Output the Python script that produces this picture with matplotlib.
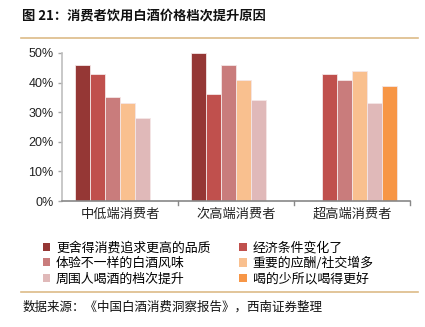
import matplotlib
matplotlib.use("Agg")
import matplotlib.pyplot as plt
import numpy as np
from matplotlib.patches import Patch
from matplotlib.lines import Line2D

plt.rcParams['font.family'] = ['Noto Sans CJK SC', 'DejaVu Sans']

categories = ['中低端消费者', '次高端消费者', '超高端消费者']
series_names = ['更舍得消费追求更高的品质', '经济条件变化了', '体验不一样的白酒风味',
                '重要的应酬/社交增多', '周围人喝酒的档次提升', '喝的少所以喝得更好']
values = [
    [46, 50, None],
    [43, 36, 43],
    [35, 46, 41],
    [33, 41, 44],
    [28, 34, 33],
    [None, None, 39],
]
colors = ['#953735', '#C0504D', '#C97C7C', '#F9C08F', '#E0B9B9', '#F79646']

fig = plt.figure(figsize=(4.25, 3.27), dpi=100)
ax = fig.add_axes([0.146, 0.385, 0.819, 0.453])

n = len(series_names)
w = 0.129
x = np.arange(len(categories))
for i in range(n):
    for j in range(len(categories)):
        v = values[i][j]
        if v is None:
            continue
        pos = x[j] - w * n / 2 + w * (i + 0.5)
        ax.bar(pos, v / 100, width=w, color=colors[i], edgecolor='#F4E6E6', linewidth=0.6)

ax.set_xlim(-0.5, 2.5)
ax.set_ylim(0, 0.5)
yt = np.arange(0, 0.51, 0.1)
ax.set_yticks(yt)
ax.set_yticklabels([f'{int(round(t*100))}%' for t in yt], fontsize=9, color='#222222',
                   family=['Liberation Sans', 'DejaVu Sans'])
ax.set_xticks(x)
ax.set_xticklabels(categories, fontsize=9.5, color='#222222')
ax.tick_params(axis='x', length=0, pad=5)
ax.tick_params(axis='y', length=3, color='#A6A6A6', width=1, pad=3)
for t in [0.5, 1.5, 2.5]:
    ax.plot([t, t], [0, -0.012], color='#888888', lw=1, clip_on=False)
for s in ['top', 'right']:
    ax.spines[s].set_visible(False)
ax.spines['left'].set_color('#BFBFBF')
ax.spines['left'].set_linewidth(1.2)
ax.spines['bottom'].set_color('#888888')
ax.spines['bottom'].set_linewidth(1.2)

handles = [Patch(facecolor=colors[i], edgecolor='none') for i in range(n)]
order = [0, 2, 4, 1, 3, 5]
fig.legend([handles[i] for i in order], [series_names[i] for i in order],
           ncol=2, loc='upper left', bbox_to_anchor=(0.1, 0.262),
           frameon=False, fontsize=9.3, handlelength=0.6, handleheight=0.6,
           handletextpad=0.45, columnspacing=2.2, labelspacing=0.2, borderaxespad=0,
           borderpad=0)

fig.text(0.052, 0.953, '图 21：消费者饮用白酒价格档次提升原因', fontsize=9.5, fontweight='bold',
         ha='left', va='center', color='#111111')
fig.add_artist(Line2D([0.05, 0.983], [0.884, 0.884], color='#DDBB88', lw=1.2))
fig.add_artist(Line2D([0.05, 0.983], [0.107, 0.107], color='#DDBB88', lw=1.2))
fig.text(0.052, 0.06, '数据来源：《中国白酒消费洞察报告》，西南证券整理', fontsize=9, style='italic',
         ha='left', va='center', color='#111111')

fig.savefig('out.png', dpi=100)
